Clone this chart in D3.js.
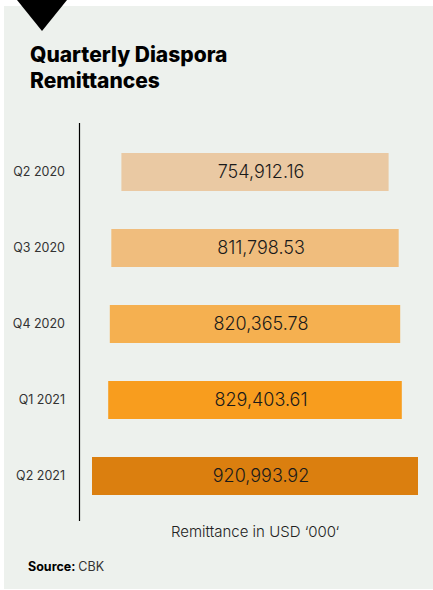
<!DOCTYPE html>
<html>
<head>
<meta charset="utf-8">
<script src="https://cdn.jsdelivr.net/npm/d3@7"></script>
<style>
  body { margin: 0; background: #fff; }
  text { font-family: Inter, "Noto Sans", sans-serif; }
</style>
</head>
<body>
<div id="chart"></div>
<script>
// データ------------------------------------------------------------
const quarters = ['Q2 2020', 'Q3 2020', 'Q4 2020', 'Q1 2021', 'Q2 2021'];
const remittance = [754912.16, 811798.53, 820365.78, 829403.61, 920993.92];
const barColors = ['#eac9a3', '#f0bd7d', '#f5b050', '#f89d1e', '#db7f0f'];

const width = 433, height = 590;
const centerX = 255;

const svg = d3.select('#chart').append('svg')
  .attr('width', width)
  .attr('height', height);

// 背景パネル--------------------------------------------------------
svg.append('rect')
  .attr('x', 4).attr('y', 6)
  .attr('width', 429).attr('height', 583)
  .attr('fill', '#edf1ed');

// 上部の三角形
svg.append('path')
  .attr('d', 'M17,0 L67,0 L42,31 Z')
  .attr('fill', '#000');

// タイトル
const title = svg.append('text')
  .attr('x', 30).attr('y', 62)
  .attr('font-size', '21px')
  .attr('font-weight', 800)
  .attr('fill', '#000');
title.append('tspan').attr('x', 30).attr('dy', 0).text('Quarterly Diaspora');
title.append('tspan').attr('x', 30).attr('dy', 26).text('Remittances');

// スケール----------------------------------------------------------
const yScale = d3.scaleBand()
  .domain(quarters)
  .range([115, 533])
  .padding(0.5);
const wScale = d3.scaleLinear()
  .domain([0, d3.max(remittance)])
  .range([0, 326]);

// 縦軸
const axisy = d3.axisLeft(yScale).tickSize(0).tickPadding(14);
const gY = svg.append('g')
  .attr('transform', 'translate(79,0)')
  .call(axisy);
gY.select('.domain').remove();
gY.selectAll('text')
  .attr('font-size', '12.5px')
  .attr('fill', '#333')
  .attr('font-family', 'Inter, sans-serif');
svg.append('line')
  .attr('x1', 79.5).attr('x2', 79.5)
  .attr('y1', 123).attr('y2', 521)
  .attr('stroke', '#000')
  .attr('stroke-width', 1.2);

// バー
svg.append('g').selectAll('rect')
  .data(quarters)
  .enter()
  .append('rect')
  .attr('x', (d, i) => centerX - wScale(remittance[i]) / 2)
  .attr('y', d => yScale(d))
  .attr('width', (d, i) => wScale(remittance[i]))
  .attr('height', yScale.bandwidth())
  .attr('fill', (d, i) => barColors[i]);

// 値ラベル
const fmt = d3.format(',.2f');
svg.append('g').selectAll('text')
  .data(quarters)
  .enter()
  .append('text')
  .attr('x', centerX + 6)
  .attr('y', d => yScale(d) + yScale.bandwidth() / 2)
  .attr('dy', '0.36em')
  .attr('text-anchor', 'middle')
  .attr('font-size', '18px')
  .attr('font-weight', 300)
  .attr('fill', '#1a1a1a')
  .text((d, i) => fmt(remittance[i]));

// 軸タイトル
svg.append('text')
  .attr('x', centerX).attr('y', 537)
  .attr('text-anchor', 'middle')
  .attr('font-size', '15px')
  .attr('font-weight', 300)
  .attr('fill', '#222')
  .text('Remittance in USD ‘000‘');

// 出典
const src = svg.append('text')
  .attr('x', 28).attr('y', 571)
  .attr('font-size', '12.5px')
  .attr('fill', '#000');
src.append('tspan').attr('font-weight', 700).text('Source: ');
src.append('tspan').attr('fill', '#333').text('CBK');
</script>
</body>
</html>
